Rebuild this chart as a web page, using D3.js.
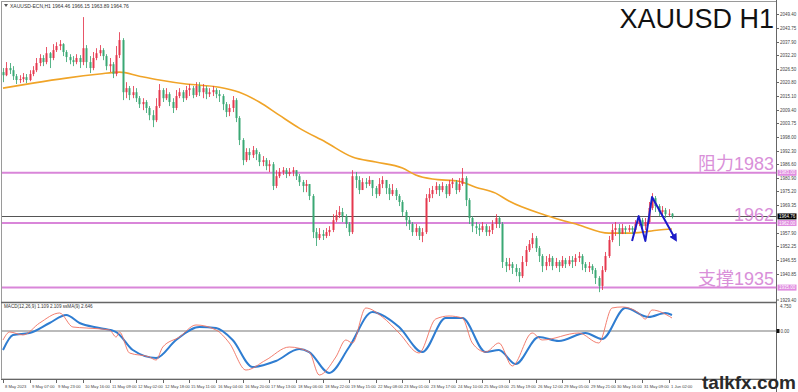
<!DOCTYPE html>
<html><head><meta charset="utf-8">
<script src="https://cdn.jsdelivr.net/npm/d3@7"></script>
<style>
body{margin:0;background:#fff;overflow:hidden}
svg{display:block}
text{font-family:"Liberation Sans",Arial,sans-serif}
</style>
</head><body><svg id="c" width="798" height="392"></svg>
<script>
// ---------------- DATA ----------------
const symbolInfo = "XAUUSD-ECN,H1  1964.46 1966.15 1963.89 1964.76";
const macdInfo = "MACD(12,26,9) 1.109 2.109  ssMA(9) 2.646";
const title = "XAUUSD H1";
const firstOpen = 2025.1;
const closes = [
2023.8,2026.8,2025.9,2023.4,2021.8,2022.2,2023.0,2021.8,2024.3,2025.9,
2028.9,2031.0,2029.3,2033.0,2031.0,2034.3,2036.0,2036.8,2033.5,2031.4,
2030.1,2029.3,2031.0,2029.3,2035.1,2029.3,2026.8,2031.0,2033.0,2034.3,
2031.8,2027.6,2028.4,2024.3,2032.2,2038.5,2016.7,2018.4,2015.5,2016.7,
2014.2,2011.7,2012.6,2010.1,2007.1,2005.0,2010.9,2017.6,2014.2,2015.9,
2012.6,2010.1,2015.1,2016.7,2014.2,2017.6,2018.4,2015.5,2019.3,2016.7,
2018.4,2015.9,2016.7,2017.6,2015.9,2015.1,2011.7,2008.4,2010.1,2013.4,
2005.9,1996.7,1988.3,1991.7,1990.4,1992.5,1990.8,1987.5,1988.3,1985.8,
1986.6,1977.5,1981.6,1983.3,1984.1,1982.5,1983.3,1984.1,1981.6,1979.1,
1977.5,1978.3,1973.3,1958.2,1955.7,1957.4,1956.6,1958.2,1959.1,1963.2,
1965.3,1966.6,1964.9,1961.6,1958.2,1981.6,1980.0,1975.8,1979.1,1978.3,
1980.0,1976.6,1974.1,1978.3,1980.0,1976.6,1974.1,1975.8,1973.3,1970.8,
1966.6,1963.2,1961.6,1958.2,1959.9,1956.6,1958.2,1972.4,1974.1,1975.8,
1977.5,1975.8,1977.5,1974.1,1978.3,1979.1,1975.8,1978.3,1980.8,1971.6,
1964.1,1960.7,1959.9,1959.1,1960.7,1958.2,1959.1,1961.6,1964.1,1961.6,
1945.7,1944.0,1944.8,1943.2,1941.5,1939.8,1945.7,1950.7,1953.2,1955.7,
1951.5,1948.2,1944.0,1945.7,1947.4,1944.0,1945.7,1944.0,1946.5,1944.8,
1946.5,1945.7,1947.4,1948.2,1944.8,1943.2,1944.0,1942.3,1939.0,1935.7,
1942.3,1948.2,1954.9,1959.1,1959.9,1957.4,1959.9,1959.1,1959.9,1959.1,
1961.6,1963.2,1960.7,1962.4,1968.3,1972.4,1969.1,1966.6,1967.4,1965.7,
1965.9,1964.76];
const highs = [
2026.8,2029.3,2028.9,2027.6,2024.3,2023.8,2024.7,2024.3,2025.9,2027.6,
2031.0,2032.6,2032.2,2035.6,2033.5,2036.8,2037.6,2038.5,2037.2,2034.3,
2032.6,2031.8,2032.6,2032.2,2048.1,2036.4,2031.8,2033.5,2035.1,2036.4,
2035.1,2032.6,2031.0,2029.3,2036.0,2041.8,2039.3,2020.9,2019.3,2019.3,
2018.4,2015.1,2014.2,2013.4,2010.9,2009.2,2014.2,2020.1,2018.4,2018.4,
2016.7,2014.2,2017.6,2018.4,2017.6,2019.3,2020.1,2019.3,2020.9,2020.9,
2020.1,2019.3,2018.4,2019.3,2018.4,2017.6,2015.9,2012.6,2011.7,2015.1,
2014.2,2006.7,1997.5,1993.3,1993.3,1994.2,1993.3,1991.7,1990.0,1989.2,
1988.3,1987.5,1984.1,1985.0,1985.4,1985.0,1985.0,1985.4,1984.1,1982.5,
1980.0,1980.0,1978.3,1974.1,1959.9,1959.9,1959.1,1959.9,1960.7,1965.7,
1967.4,1969.1,1968.3,1965.7,1962.4,1984.1,1983.3,1981.6,1980.8,1980.8,
1981.6,1980.0,1977.5,1980.8,1981.6,1980.0,1978.3,1978.3,1976.6,1974.1,
1971.6,1967.4,1964.9,1962.4,1961.6,1960.7,1959.9,1974.1,1976.6,1977.5,
1979.1,1978.3,1979.1,1978.3,1980.0,1980.8,1980.0,1980.8,1985.0,1981.6,
1972.4,1964.9,1962.4,1961.6,1962.4,1961.6,1960.7,1963.2,1965.7,1964.9,
1962.4,1947.4,1947.4,1945.7,1944.8,1943.2,1948.2,1952.4,1954.9,1957.8,
1956.6,1952.4,1949.0,1948.2,1949.0,1948.2,1947.4,1946.5,1948.2,1947.4,
1948.2,1948.2,1949.0,1949.9,1949.0,1945.7,1945.7,1944.8,1943.2,1939.8,
1944.0,1949.9,1956.6,1961.6,1962.4,1961.6,1961.6,1960.7,1961.2,1960.7,
1963.2,1964.9,1964.1,1964.1,1970.8,1974.5,1973.3,1969.9,1969.1,1968.3,
1967.8,1966.15];
const lows = [
2020.9,2023.4,2024.3,2021.8,2020.1,2020.5,2020.9,2020.5,2021.3,2023.4,
2025.1,2027.6,2027.6,2028.4,2026.8,2030.1,2033.5,2034.3,2031.8,2029.3,
2028.4,2027.6,2028.4,2026.8,2028.0,2026.8,2024.7,2025.9,2030.1,2031.8,
2030.1,2025.9,2025.1,2022.6,2023.4,2031.0,2013.4,2014.2,2013.4,2014.2,
2012.6,2010.1,2009.2,2008.0,2005.0,2002.1,2004.2,2010.1,2012.6,2013.4,
2010.9,2008.0,2009.2,2014.2,2012.6,2013.4,2015.1,2014.2,2014.7,2015.1,
2014.2,2013.8,2014.7,2015.1,2014.2,2012.6,2009.2,2006.3,2006.7,2008.4,
2004.2,1994.6,1986.2,1987.5,1988.3,1989.2,1988.3,1985.8,1985.8,1984.1,
1983.3,1975.8,1976.6,1980.8,1982.1,1980.8,1981.6,1981.6,1980.0,1977.5,
1974.9,1974.9,1971.6,1955.7,1952.4,1954.9,1954.9,1955.7,1956.6,1958.2,
1962.4,1964.1,1962.4,1959.9,1956.6,1957.4,1976.6,1974.1,1975.8,1976.6,
1977.5,1973.3,1972.4,1973.3,1976.6,1974.1,1971.6,1973.3,1971.6,1969.1,
1964.9,1960.7,1959.1,1956.6,1956.6,1954.9,1954.0,1957.4,1970.8,1972.4,
1974.1,1973.3,1974.9,1972.4,1973.3,1976.6,1974.1,1974.9,1977.5,1969.1,
1961.6,1958.2,1957.4,1956.6,1958.2,1956.6,1956.6,1957.4,1959.9,1959.9,
1943.2,1941.5,1942.3,1940.7,1939.8,1937.3,1939.0,1944.0,1949.9,1951.5,
1949.9,1945.7,1941.5,1942.3,1944.0,1942.3,1943.2,1941.5,1943.2,1943.2,
1944.0,1943.2,1944.0,1945.7,1942.3,1941.5,1941.5,1940.7,1936.5,1933.1,
1934.0,1941.5,1947.4,1954.0,1956.6,1952.4,1957.4,1957.4,1958.2,1957.4,
1958.2,1960.7,1958.2,1959.1,1961.6,1967.4,1966.6,1964.9,1964.9,1964.1,
1964.9,1963.89];
const maBars   = [0,9,19,29,35,41,47,55,65,71,77,83,89,97,105,112,120,124,129,137,142,148,152,163,173,182,189,197,201];
const maValues = [2018.4,2020.5,2022.6,2024.3,2025.1,2023.4,2021.8,2020.1,2018.8,2016.7,2012.6,2007.1,2001.7,1995.8,1989.6,1987.5,1985.0,1982.1,1980.4,1979.5,1977.0,1974.5,1971.2,1965.3,1961.2,1957.8,1957.8,1959.1,1959.5];
const macdBars   = [0,2,6,11,17,21,25,32,34,35,38,44,46,48,53,58,64,68,73,79,86,92,95,100,103,105,109,114,119,125,130,134,138,141,145,149,153,159,162,173,179,183,186,191,193,195,201];
const macdValues = [-1.58,-0.18,-0.70,1.41,3.17,0.70,0.53,0.18,-1.06,-0.18,-3.87,-4.58,-5.11,-2.82,-1.06,1.06,0.18,-2.11,-6.87,-5.11,-2.82,-3.70,-7.75,-4.58,-1.58,-2.11,4.05,2.46,-0.35,-3.87,2.11,2.64,2.29,-2.11,-3.70,-2.11,-6.16,-0.35,-1.58,-0.35,-2.11,4.05,4.23,3.17,2.11,3.70,2.29];
const signalBars   = [0,3,8,14,19,23,29,34,39,46,52,59,64,69,75,82,89,92,98,104,111,115,119,126,133,138,145,149,154,161,167,175,180,187,194,199,201];
const signalValues = [-3.35,-0.70,-0.35,1.41,2.82,1.41,0.53,-0.18,-3.35,-4.75,-1.58,0.70,0.53,-1.58,-6.34,-5.28,-3.17,-3.70,-7.39,-2.82,3.35,2.46,0.70,-3.70,2.29,2.29,-3.70,-3.35,-5.81,-1.06,-1.76,-0.35,-1.41,4.05,2.46,3.17,2.82];
const zigBars   = [189,191,193,195,202];
const zigPrices = [1954.5,1964.9,1954.5,1972.9,1955.3];
const levels     = [1983.0,1962.0,1935.0];
const levelTexts = ["阻力1983","1962","支撑1935"];
const levelTags  = ["1983.00","1962.00","1935.00"];
const lastPrice  = 1964.76;
const priceTicks = [2049.40,2043.75,2037.90,2032.20,2026.50,2020.80,2015.10,2009.40,2003.75,1998.00,1992.30,1986.60,1980.90,1975.20,1969.35,1957.90,1952.25,1946.55,1940.85,1929.40];
const macdTicks = [4.750, 0.00];
const timeLabels = ["8 May 2023","9 May 07:00","9 May 23:00","10 May 16:00","11 May 09:00","12 May 02:00","12 May 18:00","15 May 11:00","16 May 04:00","16 May 20:00","17 May 13:00","18 May 06:00","18 May 22:00","19 May 15:00","22 May 08:00","23 May 01:00","23 May 17:00","24 May 10:00","25 May 03:00","25 May 19:00","26 May 12:00","29 May 05:00","29 May 21:00","30 May 16:00","31 May 09:00","1 Jun 02:00"];
const labelEvery = 8;

// ---------------- DRAW ----------------
const svg = d3.select('#c');
const axisX = 776.5;
const x  = d3.scaleLinear().domain([0, closes.length - 1]).range([3, 672]);
const y  = d3.scaleLinear().domain([1929.4, 2049.4]).range([301, 14]);
const ym = d3.scaleLinear().domain([-8.45, 4.93]).range([379, 303]);

const UP = '#e5384e', DN = '#3aa874', PINK = '#d986d9', PINKTXT = '#d990d9';
const AX_FS = 4.5;

svg.append('rect').attr('width', 798).attr('height', 392).attr('fill', '#fff');
const defs = svg.append('defs');
defs.append('clipPath').attr('id', 'mainClip').append('rect').attr('x', 2).attr('y', 2).attr('width', axisX - 2).attr('height', 300);
defs.append('clipPath').attr('id', 'macdClip').append('rect').attr('x', 2).attr('y', 303).attr('width', axisX - 2).attr('height', 76);
defs.append('marker').attr('id', 'arr').attr('viewBox', '0 0 10 10').attr('refX', 6).attr('refY', 5)
  .attr('markerWidth', 4).attr('markerHeight', 4).attr('orient', 'auto')
  .append('path').attr('d', 'M0,0 L10,5 L0,10 z').attr('fill', '#1c1cc8');

// frame
svg.append('rect').attr('x', 1.5).attr('y', 1.5).attr('width', axisX - 1.5).attr('height', 377.5)
  .attr('fill', 'none').attr('stroke', '#9a9a9a').attr('stroke-width', 1);
svg.append('line').attr('x1', 1).attr('x2', axisX).attr('y1', 302.5).attr('y2', 302.5).attr('stroke', '#666').attr('stroke-width', 1.5);
svg.append('line').attr('x1', 1).attr('x2', axisX).attr('y1', 379.5).attr('y2', 379.5).attr('stroke', '#666').attr('stroke-width', 1);
svg.append('line').attr('x1', axisX).attr('x2', axisX).attr('y1', 0).attr('y2', 392).attr('stroke', '#666').attr('stroke-width', 1);

const main = svg.append('g').attr('clip-path', 'url(#mainClip)');

// level lines
levels.forEach(v => {
  main.append('line').attr('x1', 0).attr('x2', axisX).attr('y1', y(v)).attr('y2', y(v))
    .attr('stroke', PINK).attr('stroke-width', 2);
});
// last price line
main.append('line').attr('x1', 0).attr('x2', axisX).attr('y1', Math.round(y(lastPrice)) + 0.5).attr('y2', Math.round(y(lastPrice)) + 0.5)
  .attr('stroke', '#555').attr('stroke-width', 1);

// MA
const maData = maBars.map((b, i) => [b, maValues[i]]);
main.append('path').datum(maData)
  .attr('d', d3.line().x(d => x(d[0])).y(d => y(d[1])).curve(d3.curveMonotoneX))
  .attr('fill', 'none').attr('stroke', '#f0a428').attr('stroke-width', 1.6);

// candles
const candles = closes.map((c, i) => ({i, o: i === 0 ? firstOpen : closes[i - 1], c, h: highs[i], l: lows[i]}));
const cg = main.append('g');
candles.forEach(d => {
  const col = d.c >= d.o ? UP : DN;
  const cx = Math.round(x(d.i)) + 0.5;
  cg.append('line').attr('x1', cx).attr('x2', cx)
    .attr('y1', y(Math.max(d.h, d.o, d.c))).attr('y2', y(Math.min(d.l, d.o, d.c)))
    .attr('stroke', col).attr('stroke-width', 1).attr('opacity', 0.85);
  const top = y(Math.max(d.o, d.c)), bot = y(Math.min(d.o, d.c));
  cg.append('rect').attr('x', cx - 1).attr('y', top).attr('width', 2).attr('height', Math.max(1, bot - top))
    .attr('fill', col);
});

// zigzag annotation
main.append('path').datum(zigBars.map((b, i) => [b, zigPrices[i]]))
  .attr('d', d3.line().x(d => x(d[0])).y(d => y(d[1])))
  .attr('fill', 'none').attr('stroke', '#1c1cc8').attr('stroke-width', 2).attr('stroke-linejoin', 'round')
  .attr('marker-end', 'url(#arr)');

// level texts
const fs = 18;
levels.forEach((v, k) => {
  svg.append('text').attr('x', 774).attr('y', y(v) - 2.5).attr('text-anchor', 'end')
    .attr('font-size', fs).attr('fill', PINKTXT)
    .style('font-family', '"Liberation Sans","Noto Sans CJK SC",sans-serif')
    .text(levelTexts[k]);
});

// title
svg.append('text').attr('x', 774).attr('y', 28).attr('text-anchor', 'end').attr('font-size', 27)
  .attr('fill', '#111').text(title);
// symbol info
svg.append('path').attr('d', 'M4,4 L8,4 L6,7 Z').attr('fill', '#555');
svg.append('text').attr('x', 10).attr('y', 8).attr('font-size', 5).attr('fill', '#333').text(symbolInfo);

// price axis
const ax = svg.append('g');
priceTicks.forEach((v, k) => {
  const yy = Math.round(y(v)) + 0.5 - (k === priceTicks.length - 1 ? 1.5 : 0);
  ax.append('line').attr('x1', axisX).attr('x2', axisX + 2.5).attr('y1', yy).attr('y2', yy).attr('stroke', '#666');
  ax.append('text').attr('x', axisX + 3.5).attr('y', yy + 1.6).attr('font-size', AX_FS).attr('fill', '#444').text(v.toFixed(2));
});
// level tags
levels.forEach((v, k) => {
  const yy = y(v);
  ax.append('rect').attr('x', axisX + 1).attr('y', yy - 3).attr('width', 19).attr('height', 6).attr('fill', '#e08ce0');
  ax.append('text').attr('x', axisX + 2.5).attr('y', yy + 1.6).attr('font-size', AX_FS).attr('fill', '#fff').text(levelTags[k]);
});
// last price tag
{
  const yy = y(lastPrice);
  ax.append('rect').attr('x', axisX + 1).attr('y', yy - 3).attr('width', 19).attr('height', 6).attr('fill', '#000');
  ax.append('text').attr('x', axisX + 2.5).attr('y', yy + 1.6).attr('font-size', AX_FS).attr('fill', '#fff').text(lastPrice.toFixed(2));
}

// MACD panel
const mg = svg.append('g').attr('clip-path', 'url(#macdClip)');
mg.append('line').attr('x1', 0).attr('x2', axisX).attr('y1', ym(0)).attr('y2', ym(0)).attr('stroke', '#a5a5a5').attr('stroke-width', 1.5);
mg.append('path').datum(signalBars.map((b, i) => [b, signalValues[i]]))
  .attr('d', d3.line().x(d => x(d[0])).y(d => ym(d[1])).curve(d3.curveMonotoneX))
  .attr('fill', 'none').attr('stroke', '#2f7dd1').attr('stroke-width', 2);
mg.append('path').datum(macdBars.map((b, i) => [b, macdValues[i]]))
  .attr('d', d3.line().x(d => x(d[0])).y(d => ym(d[1])).curve(d3.curveMonotoneX))
  .attr('fill', 'none').attr('stroke', '#f07060').attr('stroke-width', 0.9);
svg.append('text').attr('x', 4).attr('y', 308).attr('font-size', 4.6).attr('fill', '#333').text(macdInfo);
// macd axis
svg.append('text').attr('x', axisX + 3.5).attr('y', 307.5).attr('font-size', AX_FS).attr('fill', '#444').text(macdTicks[0].toFixed(3));
svg.append('rect').attr('x', axisX).attr('y', ym(0) - 2).attr('width', 3).attr('height', 4).attr('fill', '#111');
svg.append('text').attr('x', axisX + 4).attr('y', ym(0) + 1.6).attr('font-size', AX_FS).attr('fill', '#444').text(macdTicks[1].toFixed(2));

// time axis
timeLabels.forEach((t, k) => {
  const xx = Math.round(x(k * labelEvery)) + 0.5;
  svg.append('line').attr('x1', xx).attr('x2', xx).attr('y1', 379).attr('y2', 383).attr('stroke', '#666');
  svg.append('text').attr('x', xx + 1.5).attr('y', 387.5).attr('font-size', 4.1).attr('fill', '#444').text(t);
});

// watermark
svg.append('text').attr('x', 796).attr('y', 389).attr('text-anchor', 'end').attr('font-size', 19)
  .attr('font-weight', 'bold').attr('fill', '#2a2a2a').text('talkfx.com');
</script>
</body></html>
